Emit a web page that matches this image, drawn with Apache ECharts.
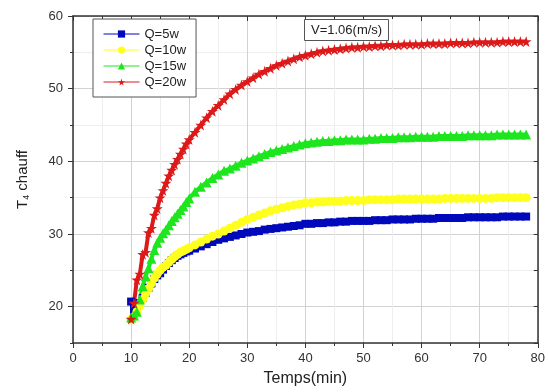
<!DOCTYPE html>
<html>
<head>
<meta charset="utf-8">
<script src="https://cdn.jsdelivr.net/npm/echarts@6/dist/echarts.min.js"></script>
<style>html,body{margin:0;padding:0;background:#fff}#c{width:548px;height:392px}</style>
</head>
<body>
<div id="c"></div>
<script>
const time = [10,10.5,11,11.5,12,12.5,13,13.5,14,14.5,15,15.5,16,16.5,17,17.5,18,18.5,19,19.5,20,
  21,22,23,24,25,26,27,28,29,30,31,32,33,34,35,36,37,38,39,40,41,42,43,44,45,46,47,48,49,50,
  51,52,53,54,55,56,57,58,59,60,61,62,63,64,65,66,67,68,69,70,71,72,73,74,75,76,77,78];

const q5 = [20.7,19.5,19.8,20.5,21.2,21.9,22.6,23.2,23.8,24.3,24.6,25.1,25.6,26.0,26.4,26.7,27.0,27.2,27.4,27.6,27.7,
  28.0,28.3,28.6,28.9,29.2,29.4,29.6,29.8,30.0,30.2,30.3,30.4,30.6,30.7,30.8,30.9,31.0,31.1,31.2,31.4,31.4,31.5,31.5,31.6,31.6,31.7,31.7,31.8,31.8,31.8,
  31.8,31.9,31.9,31.9,32.0,32.0,32.0,32.0,32.1,32.1,32.1,32.1,32.2,32.2,32.2,32.2,32.2,32.3,32.3,32.3,32.3,32.3,32.3,32.4,32.4,32.4,32.4,32.4];

const q10 = [18.2,18.6,19.3,20.2,21.0,21.8,22.5,23.2,23.9,24.5,25.0,25.4,25.7,26.1,26.5,26.9,27.2,27.5,27.7,27.9,28.1,
  28.5,28.9,29.3,29.7,30.0,30.4,30.8,31.2,31.6,32.0,32.3,32.6,32.9,33.2,33.4,33.6,33.8,34.0,34.1,34.3,34.3,34.4,34.4,34.5,34.5,34.5,34.6,34.6,34.6,34.6,
  34.7,34.7,34.7,34.7,34.7,34.8,34.8,34.8,34.8,34.8,34.8,34.8,34.8,34.9,34.9,34.9,34.9,34.9,34.9,34.9,34.9,34.9,35.0,35.0,35.0,35.0,35.0,35.0];

const q15 = [18.5,18.8,19.3,21.0,22.8,24.2,25.3,26.6,27.8,28.8,29.5,30.1,30.6,31.2,31.8,32.3,32.8,33.3,33.8,34.4,34.9,
  35.8,36.5,37.1,37.7,38.2,38.7,39.0,39.4,39.8,40.1,40.4,40.7,41.0,41.3,41.5,41.7,41.9,42.1,42.3,42.5,42.6,42.7,42.8,42.8,42.9,42.9,43.0,43.0,43.0,43.0,
  43.1,43.1,43.2,43.2,43.2,43.3,43.3,43.3,43.4,43.4,43.4,43.4,43.5,43.5,43.5,43.5,43.5,43.6,43.6,43.6,43.6,43.6,43.7,43.7,43.7,43.7,43.7,43.7];

const q20 = [18.3,20.5,23.7,24.5,27.2,27.5,30.2,30.8,32.6,33.5,35.0,36.0,37.0,38.0,38.8,39.6,40.3,41.0,41.7,42.4,43.0,
  44.0,45.0,46.0,46.9,47.7,48.5,49.3,49.9,50.5,51.0,51.5,52.0,52.4,52.8,53.2,53.5,53.8,54.1,54.4,54.6,54.8,55.0,55.2,55.3,55.4,55.5,55.6,55.7,55.7,55.8,
  55.8,55.9,55.9,56.0,56.0,56.0,56.1,56.1,56.1,56.1,56.2,56.2,56.2,56.2,56.3,56.3,56.3,56.3,56.4,56.4,56.4,56.4,56.4,56.5,56.5,56.5,56.5,56.5];

const seriesNames = ['Q=5w','Q=10w','Q=15w','Q=20w'];
const xTicks = [0,10,20,30,40,50,60,70,80];
const yTicks = [20,30,40,50,60];

const star = 'path://M50,0 L61,35 L98,35 L68,57 L79,91 L50,70 L21,91 L32,57 L2,35 L39,35 Z';
const pair = arr => time.map((t,i)=>[t, arr[i]]);

const chart = echarts.init(document.getElementById('c'), null, {renderer:'canvas'});
const font = '"Liberation Sans", Arial, sans-serif';
const axisLineStyle = {color:'#333', width:1.5};

const mk = (name, data, color, symbol, size, lw) => ({
  name, type:'line', data: pair(data), symbol, symbolSize:size, showSymbol:true,
  lineStyle:{color, width:lw}, itemStyle:{color, borderWidth:0}, animation:false, z:2
});

chart.setOption({
  animation:false,
  backgroundColor:'#fff',
  textStyle:{fontFamily:font},
  grid:{left:73, right:6, top:16, bottom:49, containLabel:false},
  title:{text:'V=1.06(m/s)', left:304, top:19, padding:[3,7], borderWidth:1, borderColor:'#555',
    backgroundColor:'#fff', textStyle:{fontSize:13, fontWeight:'normal', color:'#222', fontFamily:font, lineHeight:16}},
  legend:{orient:'vertical', left:93, top:19, padding:[7,10,7,10], itemGap:0, itemWidth:36, itemHeight:9,
    itemTextGap:5, borderWidth:1, borderColor:'#555', backgroundColor:'#fff', data:seriesNames,
    lineStyle:{width:1},
    textStyle:{fontSize:13, color:'#222', fontFamily:font, lineHeight:16}},
  xAxis:[
    {type:'value', position:'bottom', min:xTicks[0], max:xTicks[xTicks.length-1], interval:10,
      name:'Temps(min)', nameLocation:'middle', nameGap:28,
      nameTextStyle:{fontSize:16, color:'#222', fontFamily:font},
      axisLine:{show:true, onZero:false, lineStyle:axisLineStyle},
      axisTick:{show:true, inside:false, length:5, lineStyle:{color:'#333'}},
      minorTick:{show:true, splitNumber:2, length:3, lineStyle:{color:'#333'}},
      axisLabel:{fontSize:13, color:'#333', margin:9, fontFamily:font},
      splitLine:{show:true, lineStyle:{color:'#d2d2d2', width:1}},
      minorSplitLine:{show:true, lineStyle:{color:'#eeeeee', width:1}}},
    {type:'value', position:'top', min:0, max:80, interval:10,
      axisLine:{show:true, onZero:false, lineStyle:axisLineStyle},
      axisTick:{show:true, inside:true, length:5, lineStyle:{color:'#333'}},
      minorTick:{show:true, splitNumber:2, length:3, lineStyle:{color:'#333'}},
      axisLabel:{show:false}, splitLine:{show:false}}
  ],
  yAxis:[
    {type:'value', position:'left', min:15, max:60, interval:5,
      name:'{a|T}{s|4}{a| chauff}', nameLocation:'middle', nameGap:42, nameRotate:90,
      nameTextStyle:{rich:{a:{fontSize:15, color:'#222', fontFamily:font}, s:{fontSize:9, color:'#222', fontFamily:font, verticalAlign:'bottom', padding:[8,0,0,0]}}},
      axisLine:{show:true, onZero:false, lineStyle:axisLineStyle},
      axisTick:{show:true, inside:false, length:3, lineStyle:{color:'#333'}},
      axisLabel:{fontSize:13, color:'#333', margin:10, fontFamily:font,
        formatter: v => (yTicks.indexOf(v) >= 0 ? String(v) : '')},
      splitLine:{show:true, lineStyle:{color:['#eeeeee','#d2d2d2'], width:1}}},
    {type:'value', position:'left', min:15, max:60, interval:5,
      axisLine:{show:false},
      axisTick:{show:true, inside:false, length:5, customValues:yTicks, lineStyle:{color:'#333'}},
      axisLabel:{show:false}, splitLine:{show:false}},
    {type:'value', position:'right', min:15, max:60, interval:5,
      axisLine:{show:true, onZero:false, lineStyle:axisLineStyle},
      axisTick:{show:true, inside:true, length:4, lineStyle:{color:'#333'}},
      axisLabel:{show:false}, splitLine:{show:false}}
  ],
  series:[
    mk(seriesNames[0], q5, '#0008bc', 'rect', 8, 5),
    mk(seriesNames[1], q10, '#ffff1e', 'circle', 9, 6),
    mk(seriesNames[2], q15, '#1ee61e', 'triangle', 10, 4),
    mk(seriesNames[3], q20, '#dc1a1a', star, 11, 4)
  ]
});
</script>
</body>
</html>
